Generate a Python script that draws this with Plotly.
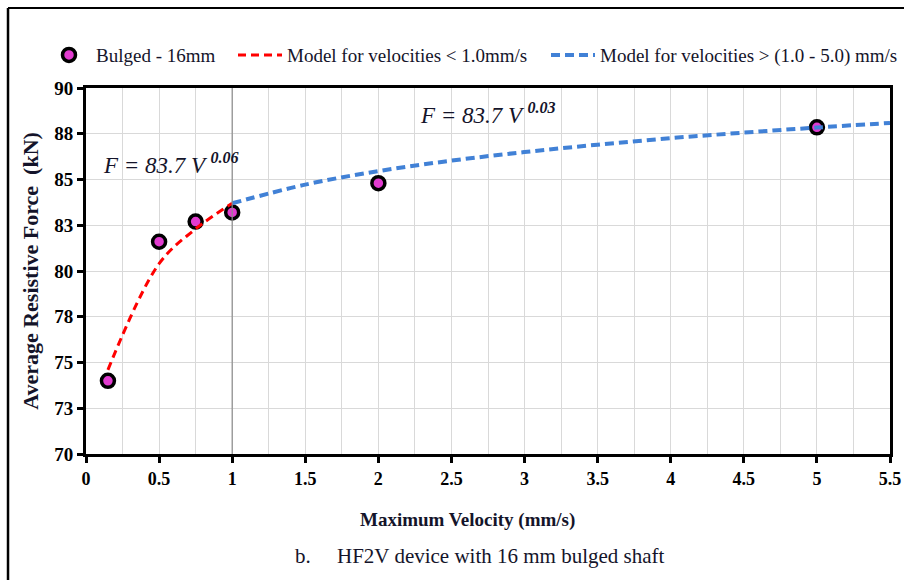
import plotly.graph_objects as go

# Measured points: bulged shaft, 16 mm
velocity = [0.15, 0.5, 0.75, 1.0, 2.0, 5.0]
force = [74.0, 81.6, 82.7, 83.2, 84.8, 87.85]

# Fitted model, low-velocity branch (F = 83.7 V^0.06)
model_low_v = [0.15, 0.5, 0.75, 1.0]
model_low_f = [74.6, 80.4, 82.3, 83.7]

# Fitted model, high-velocity branch (F = 83.7 V^0.03)
model_high_v = [1.0, 1.5, 2.0, 2.5, 3.0, 3.5, 4.0, 4.5, 5.0, 5.5]
model_high_f = [83.7, 84.72, 85.46, 86.03, 86.5, 86.9, 87.26, 87.56, 87.84, 88.09]

# Axis ticks (y labels are rounded to whole numbers)
x_ticks = [0, 0.5, 1, 1.5, 2, 2.5, 3, 3.5, 4, 4.5, 5, 5.5]
x_tick_text = ["0", "0.5", "1", "1.5", "2", "2.5", "3", "3.5", "4", "4.5", "5", "5.5"]
y_ticks = [70, 72.5, 75, 77.5, 80, 82.5, 85, 87.5, 90]
y_tick_text = ["70", "73", "75", "78", "80", "83", "85", "88", "90"]

SERIF = "Liberation Serif, Times New Roman, serif"
INK = "#14142a"

fig = go.Figure()

fig.add_trace(go.Scatter(
    x=velocity, y=force, mode="markers", name="Bulged - 16mm", legend="legend",
    marker=dict(size=13, color="#e23bd0", line=dict(color="black", width=3.5)),
))
fig.add_trace(go.Scatter(
    x=model_low_v, y=model_low_f, mode="lines", legend="legend2",
    name="Model for velocities < 1.0mm/s",
    line=dict(color="#ff0000", width=3, dash="8px,5px", shape="spline"),
))
fig.add_trace(go.Scatter(
    x=model_high_v, y=model_high_f, mode="lines", legend="legend3",
    name="Model for velocities > (1.0 - 5.0) mm/s",
    line=dict(color="#4181d6", width=4, dash="9px,5px", shape="spline"),
))

# Boundary between the two velocity regimes
fig.add_shape(type="line", x0=1, x1=1, y0=0, y1=1, xref="x", yref="paper",
              line=dict(color="#8c8c8c", width=1.2), layer="above")

# Outer frame lines of the figure panel
fig.add_shape(type="line", xref="paper", yref="paper",
              x0=-0.097, x1=1.03, y0=1.2186, y1=1.2186,
              line=dict(color="black", width=2))
fig.add_shape(type="line", xref="paper", yref="paper",
              x0=-0.097, x1=-0.097, y0=1.2186, y1=-0.36,
              line=dict(color="black", width=2.5))

fig.add_annotation(
    x=0.1, y=85.9, xref="x", yref="y", xanchor="left", yanchor="middle",
    text="<i>F = 83.7 V </i><sup><b><i>0.06</i></b></sup>", showarrow=False,
    font=dict(family=SERIF, size=23, color=INK),
)
fig.add_annotation(
    x=2.27, y=88.6, xref="x", yref="y", xanchor="left", yanchor="middle",
    text="<i>F = 83.7 V </i><sup><b><i>0.03</i></b></sup>", showarrow=False,
    font=dict(family=SERIF, size=23, color=INK),
)
fig.add_annotation(
    x=0.475, y=-0.18, xref="paper", yref="paper", xanchor="center", yanchor="middle",
    text="<b>Maximum Velocity (mm/s)</b>", showarrow=False,
    font=dict(family=SERIF, size=19, color=INK),
)
fig.add_annotation(
    x=0.49, y=-0.279, xref="paper", yref="paper", xanchor="center", yanchor="middle",
    text="b.\u00a0\u00a0\u00a0\u00a0 HF2V device with 16 mm bulged shaft", showarrow=False,
    font=dict(family=SERIF, size=21, color=INK),
)

axis_common = dict(
    showline=True, linecolor="black", linewidth=3, mirror=True,
    ticks="outside", ticklen=6, tickwidth=3, tickcolor="black",
    gridcolor="#d9d9d9", gridwidth=1, zeroline=False,
)

fig.update_xaxes(
    range=[0, 5.5], tickmode="array", tickvals=x_ticks, ticktext=x_tick_text,
    tickfont=dict(family=SERIF, size=18, color="black", weight="bold"),
    minor=dict(dtick=0.25, showgrid=True, gridcolor="#d9d9d9", gridwidth=1),
    **axis_common,
)
fig.update_yaxes(
    range=[70, 90], tickmode="array", tickvals=y_ticks, ticktext=y_tick_text,
    tickfont=dict(family=SERIF, size=19, color="black", weight="bold"),
    title=dict(text="<b>Average Resistive Force  (kN)</b>", standoff=10,
               font=dict(family=SERIF, size=22, color=INK)),
    **axis_common,
)

legend_common = dict(
    orientation="h", y=1.09, xanchor="left", yanchor="middle",
    font=dict(family=SERIF, size=19, color=INK),
    bgcolor="rgba(0,0,0,0)", itemwidth=44,
)


def px_to_paper(px):
    return (px - 86) / 804


fig.update_layout(
    width=904, height=580,
    margin=dict(l=86, r=14, t=88, b=126, autoexpand=False),
    paper_bgcolor="white", plot_bgcolor="white",
    showlegend=True,
    legend=dict(x=px_to_paper(42), **legend_common),
    legend2=dict(x=px_to_paper(233), **legend_common),
    legend3=dict(x=px_to_paper(546), **legend_common),
)

fig.write_html("out.html")
